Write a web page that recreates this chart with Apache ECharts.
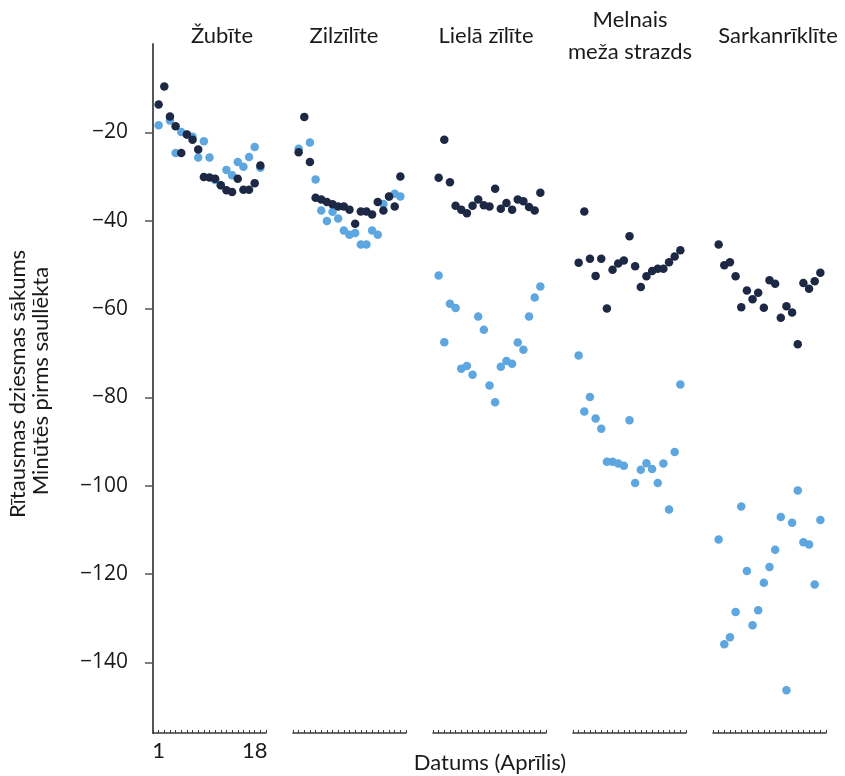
<!DOCTYPE html>
<html><head><meta charset="utf-8">
<script src="https://cdn.jsdelivr.net/npm/echarts@6/dist/echarts.min.js"></script>
<style>html,body{margin:0;padding:0;background:#fff}#c{width:845px;height:776px}</style>
</head><body><div id="c"></div>
<script>
// ---- data ----
const days = [1,2,3,4,5,6,7,8,9,10,11,12,13,14,15,16,17,18,19];
const species = ['Žubīte','Zilzīlīte','Lielā zīlīte','Melnais\nmeža strazds','Sarkanrīklīte'];
const yTicks = [-20,-40,-60,-80,-100,-120,-140];
const xTickLabels = [1,18];

const darkZubite   = [-13.7,-9.6,-16.4,-18.6,-24.7,-20.5,-21.7,-23.9,-30.1,-30.2,-30.5,-32.0,-33.1,-33.5,-30.5,-33.0,-33.0,-31.5,-27.5];
const lightZubite  = [-18.4,null,-17.3,-24.7,-19.9,-20.5,-21.0,-25.7,-22.0,-25.7,-30.8,-32.0,-28.5,-29.7,-26.7,-27.8,-25.6,-23.3,-28.0];
const darkZilzilite  = [-24.5,-16.5,-26.7,-34.8,-35.2,-35.8,-36.3,-36.8,-36.8,-37.5,-40.7,-37.9,-37.9,-38.6,-35.8,-37.7,-34.5,-36.8,-30.0];
const lightZilzilite = [-23.7,null,-22.3,-30.7,-37.7,-40.1,-38.0,-39.5,-42.2,-43.2,-42.8,-45.4,-45.4,-42.2,-43.2,-36.2,-34.6,-33.9,-34.5];
const darkLiela  = [-30.3,-21.7,-31.3,-36.6,-37.5,-38.3,-36.6,-35.2,-36.5,-36.8,-32.8,-37.3,-36.0,-37.5,-35.2,-35.6,-36.9,-37.7,-33.7];
const lightLiela = [-52.4,-67.5,-58.8,-59.8,-73.5,-72.9,-74.9,-61.7,-64.7,-77.3,-81.1,-73.1,-71.8,-72.4,-67.6,-69.2,-61.7,-57.4,-54.9];
const darkMelnais  = [-49.5,-37.9,-48.6,-52.5,-48.6,-59.9,-51.1,-49.7,-49.0,-43.5,-50.3,-55.0,-52.6,-51.4,-50.9,-50.9,-49.4,-48.1,-46.7];
const lightMelnais = [-70.5,-83.2,-79.9,-84.8,-87.1,-94.6,-94.6,-95.0,-95.5,-85.2,-99.4,-96.4,-94.9,-96.2,-99.4,-95.0,-105.4,-92.4,-77.1];
const darkSarkan  = [-45.4,-50.1,-49.4,-52.6,-59.6,-55.8,-57.8,-56.3,-59.7,-53.5,-54.3,-62.0,-59.4,-60.8,-68.0,-54.1,-55.4,-53.7,-51.8];
const lightSarkan = [-112.2,-135.9,-134.3,-128.6,-104.7,-119.3,-131.6,-128.2,-122.0,-118.4,-114.5,-107.1,-146.3,-108.4,-101.1,-112.8,-113.3,-122.4,-107.8];

const darkSets  = [darkZubite, darkZilzilite, darkLiela, darkMelnais, darkSarkan];
const lightSets = [lightZubite, lightZilzilite, lightLiela, lightMelnais, lightSarkan];

// ---- styles ----
const DARK = '#1c2844';
const LIGHT = '#5ea6e0';
const AXIS = '#3a3a3a';
const TXT = '#1a1a1a';
const LABEL_FONT = 'Lato, "Open Sans", sans-serif';

const grids = [], xAxes = [], yAxes = [], series = [];
const titleX = [222, 344, 486, 630, 778];
species.forEach((name, i) => {
  grids.push({left: 153 + i * 140, top: 44, width: 113, height: 689});
  xAxes.push({
    type: 'value', gridIndex: i, min: 0, max: 20, interval: 1,
    axisLine: {show: true, onZero: false, lineStyle: {color: AXIS, width: 1.5}},
    axisTick: {show: true, inside: true, length: 3, lineStyle: {color: AXIS, width: 1}},
    axisLabel: {show: i === 0, margin: 7, color: TXT, fontFamily: LABEL_FONT, fontSize: 22,
      formatter: v => xTickLabels.includes(v) ? String(v) : ''},
    splitLine: {show: false}
  });
  yAxes.push({
    type: 'value', gridIndex: i, min: -156, max: 0, show: i === 0,
    axisLine: {show: true, onZero: false, lineStyle: {color: '#555', width: 2}},
    axisTick: {show: true, length: 8, lineStyle: {color: '#555', width: 1.5}, customValues: yTicks},
    axisLabel: {show: true, margin: 25, color: TXT, fontFamily: '"Open Sans", sans-serif', fontSize: 21,
      customValues: yTicks, formatter: v => String(v).replace('-', '\u2212')},
    splitLine: {show: false}
  });
  series.push({
    type: 'scatter', xAxisIndex: i, yAxisIndex: i, symbolSize: 8.5, silent: true,
    itemStyle: {color: LIGHT, opacity: 1},
    data: days.map((d, k) => [d, lightSets[i][k]]).filter(p => p[1] !== null)
  });
  series.push({
    type: 'scatter', xAxisIndex: i, yAxisIndex: i, symbolSize: 8.5, silent: true,
    itemStyle: {color: DARK, opacity: 1},
    data: days.map((d, k) => [d, darkSets[i][k]]).filter(p => p[1] !== null)
  });
});

const graphics = species.map((name, i) => ({
  type: 'text', x: titleX[i], y: 36,
  style: {text: name, fill: TXT, font: '22px ' + LABEL_FONT, align: 'center', verticalAlign: 'middle', lineHeight: 32}
}));
graphics.push({
  type: 'text', x: 490, y: 763,
  style: {text: 'Datums (Aprīlis)', fill: TXT, font: '22px ' + LABEL_FONT, align: 'center', verticalAlign: 'middle'}
});
graphics.push({
  type: 'text', x: 18, y: 384, rotation: Math.PI / 2,
  style: {text: 'Rītausmas dziesmas sākums', fill: TXT, font: '22px ' + LABEL_FONT, align: 'center', verticalAlign: 'middle'}
});
graphics.push({
  type: 'text', x: 41, y: 381, rotation: Math.PI / 2,
  style: {text: 'Minūtēs pirms saullēkta', fill: TXT, font: '22px ' + LABEL_FONT, align: 'center', verticalAlign: 'middle'}
});

const chart = echarts.init(document.getElementById('c'), null, {renderer: 'canvas'});
chart.setOption({
  animation: false,
  backgroundColor: '#fff',
  grid: grids, xAxis: xAxes, yAxis: yAxes, series: series,
  graphic: graphics
});
</script>
</body></html>
